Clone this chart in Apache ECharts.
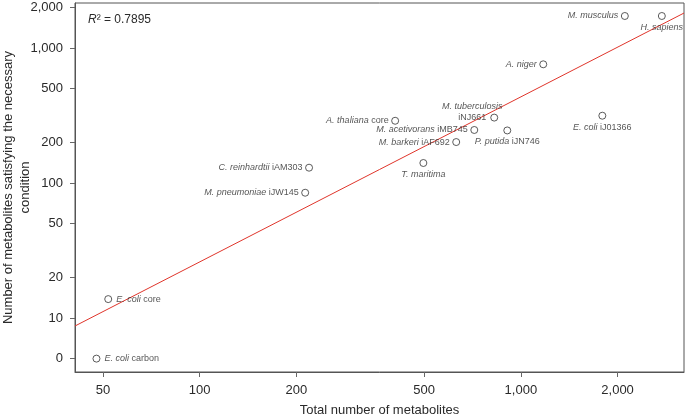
<!DOCTYPE html>
<html>
<head>
<meta charset="utf-8">
<script src="https://cdn.jsdelivr.net/npm/echarts@6/dist/echarts.min.js"></script>
<style>
html,body{margin:0;padding:0;background:#fff;}
#chart{width:685px;height:417px;}
</style>
</head>
<body>
<div id="chart"></div>
<script>
// ---- data ----
const speciesNames = ['E. coli','E. coli','M. pneumoniae','C. reinhardtii','A. thaliana','T. maritima','M. barkeri','M. acetivorans','M. tuberculosis','P. putida','A. niger','E. coli','M. musculus','H. sapiens'];
const modelNames   = ['carbon','core','iJW145','iAM303','core','','iAF692','iMB745','iNJ661','iJN746','','iJ01366','',''];
const totalMetabolites      = [47.7, 51.9, 213, 219, 406, 497, 629, 716, 826, 907, 1174, 1793, 2107, 2747];
const satisfyingMetabolites = [0, 13.8, 84.7, 129.8, 289, 140.6, 201, 247, 305, 245, 757, 315, 1726, 1726];

const xTickValues = [50, 100, 200, 500, 1000, 2000];
const yTickValues = [5, 10, 20, 50, 100, 200, 500, 1000, 2000];
const yTickLabels = ['0', '10', '20', '50', '100', '200', '500', '1,000', '2,000'];
const zeroDisplayValue = 5;   // a count of 0 is drawn where the "0" tick sits

// fitted line: log10(y) = fitIntercept + fitSlope * log10(x)
const fitIntercept = -1.0298;
const fitSlope = 1.2226;
const rSquaredText = '0.7895';

const xMin = 40.9, xMax = 3220, yMin = 3.98, yMax = 2154;

// ---- label placement (style) ----
const labelSide = {
  0: {position: 'right', distance: 4},
  1: {position: 'right', distance: 4},
  5: {position: 'bottom', distance: 2},
  8: {position: 'inside', offset: [-22, -6], align: 'center'},
  9: {position: 'bottom', distance: 2},
  11: {position: 'bottom', distance: 2},
  13: {position: 'bottom', distance: 2}
};

const points = totalMetabolites.map((x, i) => {
  const y = satisfyingMetabolites[i] === 0 ? zeroDisplayValue : satisfyingMetabolites[i];
  const lab = Object.assign({position: 'left', distance: 2.5}, labelSide[i] || {});
  return {value: [x, y], name: speciesNames[i] + (modelNames[i] ? ' ' + modelNames[i] : ''), label: lab};
});

const fitLine = [xMin, xMax].map(x => [x, Math.pow(10, fitIntercept + fitSlope * Math.log10(x))]);

const fmtNum = v => Number(v).toLocaleString('en-US');
const FONT = 'Liberation Sans, Arial, Helvetica, sans-serif';
const TXT = '#2a2a2a';

const chart = echarts.init(document.getElementById('chart'));
chart.setOption({
  animation: false,
  backgroundColor: '#fff',
  textStyle: {fontFamily: FONT},
  grid: {left: 75, right: 1, top: 3, bottom: 45, show: true, borderColor: '#555', borderWidth: 1,
         containLabel: false, outerBoundsMode: 'none'},
  xAxis: {
    type: 'log', logBase: 10, min: xMin, max: xMax,
    name: 'Total number of metabolites', nameLocation: 'middle', nameGap: 32, nameMoveOverlap: false,
    nameTextStyle: {fontSize: 13, color: TXT, fontFamily: FONT},
    axisLine: {show: true, lineStyle: {color: '#555', width: 1}},
    axisTick: {show: true, length: 5, lineStyle: {color: '#666'}, customValues: xTickValues},
    axisLabel: {fontSize: 13, color: TXT, margin: 12, fontFamily: FONT, customValues: xTickValues, formatter: v => fmtNum(v)},
    splitLine: {show: false}, minorTick: {show: false}
  },
  yAxis: {
    type: 'log', logBase: 10, min: yMin, max: yMax,
    name: 'Number of metabolites satisfying the necessary\ncondition', nameLocation: 'middle', nameRotate: 90, nameGap: 41,
    nameMoveOverlap: false,
    nameTextStyle: {fontSize: 13, color: TXT, lineHeight: 17, fontFamily: FONT},
    axisLine: {show: true, lineStyle: {color: '#555', width: 1}},
    axisTick: {show: true, length: 5, lineStyle: {color: '#666'}, customValues: yTickValues},
    axisLabel: {fontSize: 13, color: TXT, margin: 12, fontFamily: FONT, customValues: yTickValues,
      formatter: v => { const k = yTickValues.findIndex(t => Math.abs(t - v) < 1e-6 * t); return k >= 0 ? yTickLabels[k] : fmtNum(v); }},
    splitLine: {show: false}, minorTick: {show: false}
  },
  graphic: [{
    type: 'text', left: 88, top: 14,
    style: {
      text: '{i|R}{n|² = ' + rSquaredText + '}',
      rich: {i: {fontStyle: 'italic', fontSize: 12, fontFamily: FONT, fill: TXT}, n: {fontSize: 12, fontFamily: FONT, fill: TXT}}
    }
  }],
  series: [
    {
      type: 'line', data: fitLine, symbol: 'none', silent: true,
      lineStyle: {color: '#e0352b', width: 1}, z: 1
    },
    {
      type: 'scatter', data: points, symbol: 'circle', symbolSize: 7, z: 2,
      itemStyle: {color: '#fff', borderColor: '#333', borderWidth: 1},
      label: {
        show: true, fontSize: 9, color: TXT, fontFamily: FONT, lineHeight: 11,
        formatter: p => {
          const i = p.dataIndex;
          let s = '{i|' + speciesNames[i] + '}';
          if (modelNames[i]) s += (i === 8 ? '\n' : ' ') + '{n|' + modelNames[i] + '}';
          return s;
        },
        rich: {
          i: {fontStyle: 'italic', fontSize: 9, fontFamily: FONT, color: TXT, lineHeight: 11},
          n: {fontSize: 9, fontFamily: FONT, color: TXT, lineHeight: 11}
        }
      }
    }
  ]
});
</script>
</body>
</html>
